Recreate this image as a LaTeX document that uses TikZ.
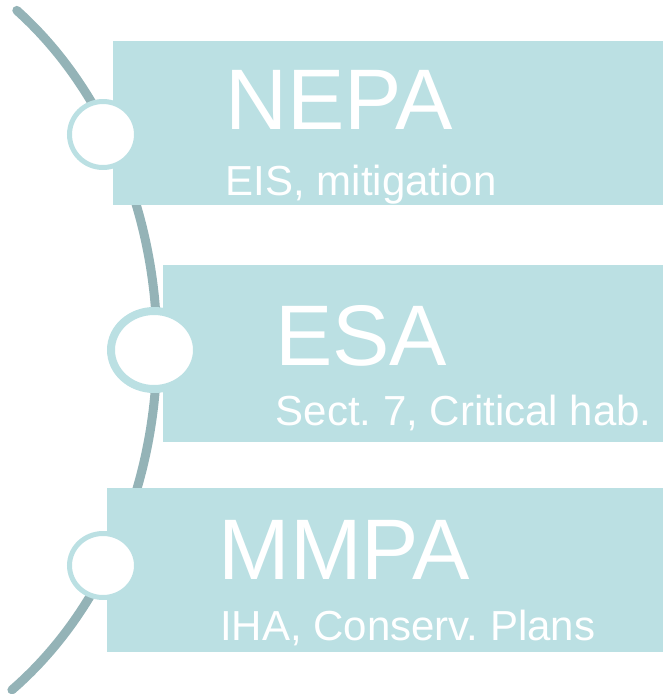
\documentclass[tikz,border=0pt]{standalone}
\usepackage{fontspec}
\setmainfont{Liberation Sans}
\frenchspacing
\definecolor{boxfill}{HTML}{BBE0E3}
\definecolor{ringcol}{HTML}{BBE0E3}
\definecolor{arccol}{HTML}{94B3B7}
\begin{document}
\begin{tikzpicture}[x=1pt,y=-1pt,
  boxstyle/.style={fill=boxfill},
  ringstyle/.style={draw=ringcol,fill=white},
  titlestyle/.style={anchor=base west,inner sep=0pt,text=white,font=\fontsize{86}{86}\selectfont},
  substyle/.style={anchor=base west,inner sep=0pt,text=white,font=\fontsize{42}{42}\selectfont\frenchspacing}]
\useasboundingbox (0,0) rectangle (663,694);
% curved spine
\draw[arccol,line width=9pt,line cap=round] plot[domain=-53.5:54.5,samples=80,smooth]
  ({-189+346*cos(\x)},{348+420*sin(\x)});
% boxes
\fill[boxstyle] (113,41) rectangle (663,205);
\fill[boxstyle] (163,265) rectangle (663,442);
\fill[boxstyle] (107,488) rectangle (663,652);
% rings
\draw[ringstyle,line width=5pt] (103,134.5) ellipse [x radius=33.5,y radius=33];
\draw[ringstyle,line width=8pt] (154,350) ellipse [x radius=43,y radius=39];
\draw[ringstyle,line width=5pt] (103,565.5) ellipse [x radius=33.5,y radius=32];
% texts
\node[titlestyle] (t1) at (225,129) {NEPA};
\node[substyle] (s1) at (225.5,195.5) {EIS, mitigation};
\node[titlestyle] (t2) at (275,365) {ESA};
\node[substyle] (s2) at (275.5,425.5) {Sect. 7, Critical hab.};
\node[titlestyle] (t3) at (218.5,579) {MMPA};
\node[substyle] (s3) at (220,640.5) {IHA, Conserv. Plans};
\end{tikzpicture}
\end{document}
